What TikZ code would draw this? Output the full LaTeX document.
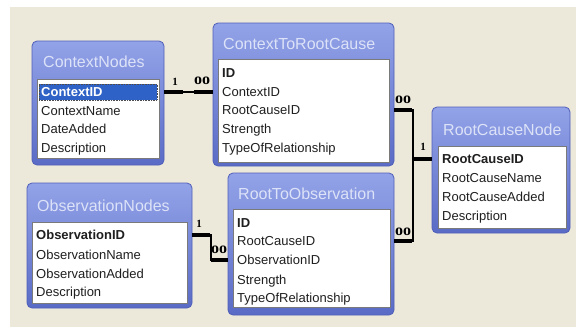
\documentclass[tikz,border=0pt]{standalone}
\usepackage{fontspec}
\setmainfont{Liberation Sans}
\newfontfamily\relfont{Liberation Serif}
\usetikzlibrary{calc}

\definecolor{deskbg}{HTML}{ECE8DA}
\definecolor{barTop}{HTML}{93A3E8}
\definecolor{barBot}{HTML}{5A6BC6}
\definecolor{boxEdge}{HTML}{4F5FB8}
\definecolor{titleInk}{HTML}{DCE2F7}
\definecolor{paneEdge}{HTML}{7A7A7A}
\definecolor{selBlue}{HTML}{2F62C6}

\tikzset{
  tableframe/.style={draw=boxEdge, line width=0.8pt, rounded corners=5pt,
    top color=barTop, bottom color=barBot, inner sep=0pt},
  listpane/.style={draw=paneEdge, line width=0.9pt, fill=white, inner sep=0pt},
  tabletitle/.style={anchor=west, inner sep=0pt, text=titleInk,
    font=\fontsize{16}{18}\selectfont, text height=11.5pt, text depth=0pt},
  field/.style={anchor=west, inner sep=0pt, text=black!88,
    font=\fontsize{13}{15}\selectfont, text height=9.3pt, text depth=0pt},
  keyfield/.style={field, font=\fontsize{13}{15}\selectfont\bfseries},
  selrow/.style={fill=selBlue, draw=black!70, densely dotted, line width=0.6pt, inner sep=0pt},
  relthin/.style={draw=black, line width=1.1pt},
  relthick/.style={draw=black, line width=3.2pt},
  onelabel/.style={inner sep=0pt, font=\relfont\bfseries\fontsize{11}{11}\selectfont},
  manylabel/.style={inner sep=0pt, font=\relfont\bfseries\fontsize{16}{16}\selectfont}
}

\begin{document}
\begin{tikzpicture}[x=1pt, y=-1pt]
  % canvas
  \useasboundingbox (0,0) rectangle (576,327);
  \fill[white] (0,0) rectangle (576,327);
  \fill[deskbg] (10,7) rectangle (576,327);

  % ---- ContextNodes ----
  \node[tableframe, minimum width=132pt, minimum height=124pt] (ctx) at (98,103) {};
  \node[tabletitle] (ctx-t) at (43,62) {ContextNodes};
  \node[listpane, minimum width=122pt, minimum height=79pt] (ctx-p) at (98,118.5) {};
  \node[selrow, minimum width=118pt, minimum height=16pt] (ctx-sel) at (98,92) {};
  \node[keyfield, text=white] (ctx-1) at (41,92) {ContextID};
  \node[field] (ctx-2) at (41,111) {ContextName};
  \node[field] (ctx-3) at (41,129) {DateAdded};
  \node[field] (ctx-4) at (41,148) {Description};

  % ---- ContextToRootCause ----
  \node[tableframe, minimum width=181pt, minimum height=143pt] (c2r) at (303.5,94.5) {};
  \node[tabletitle] (c2r-t) at (223,44) {ContextToRootCause};
  \node[listpane, minimum width=171pt, minimum height=103pt] (c2r-p) at (303.5,110.5) {};
  \node[keyfield] (c2r-1) at (222,73) {ID};
  \node[field] (c2r-2) at (222,92) {ContextID};
  \node[field] (c2r-3) at (222,110) {RootCauseID};
  \node[field] (c2r-4) at (222,129) {Strength};
  \node[field] (c2r-5) at (222,148) {TypeOfRelationship};

  % ---- RootCauseNode ----
  \node[tableframe, minimum width=138pt, minimum height=126pt] (rcn) at (501,170) {};
  \node[tabletitle] (rcn-t) at (443,130) {RootCauseNode};
  \node[listpane, minimum width=128pt, minimum height=82pt] (rcn-p) at (502,187) {};
  \node[keyfield] (rcn-1) at (442,159) {RootCauseID};
  \node[field] (rcn-2) at (442,178) {RootCauseName};
  \node[field] (rcn-3) at (442,197) {RootCauseAdded};
  \node[field] (rcn-4) at (442,216) {Description};

  % ---- ObservationNodes ----
  \node[tableframe, minimum width=165pt, minimum height=125pt] (obs) at (109.5,245.5) {};
  \node[tabletitle] (obs-t) at (37,206) {ObservationNodes};
  \node[listpane, minimum width=155pt, minimum height=81pt] (obs-p) at (109.5,262.5) {};
  \node[keyfield] (obs-1) at (36,235) {ObservationID};
  \node[field] (obs-2) at (36,255) {ObservationName};
  \node[field] (obs-3) at (36,274) {ObservationAdded};
  \node[field] (obs-4) at (36,292) {Description};

  % ---- RootToObservation ----
  \node[tableframe, minimum width=166pt, minimum height=142pt] (r2o) at (311,244) {};
  \node[tabletitle] (r2o-t) at (238,194) {RootToObservation};
  \node[listpane, minimum width=157pt, minimum height=98pt] (r2o-p) at (311.5,258) {};
  \node[keyfield] (r2o-1) at (237,223) {ID};
  \node[field] (r2o-2) at (237,241) {RootCauseID};
  \node[field] (r2o-3) at (237,260) {ObservationID};
  \node[field] (r2o-4) at (237,280) {Strength};
  \node[field] (r2o-5) at (237,298) {TypeOfRelationship};

  % ---- relationships ----
  % ContextNodes 1 -- many ContextToRootCause
  \draw[relthin] (ctx.east |- ctx-1) -- (c2r.west |- ctx-1);
  \draw[relthick] (ctx.east |- ctx-1) -- ++(19,0);
  \draw[relthick] (c2r.west |- ctx-1) -- ++(-19,0);
  \node[onelabel] (rel1-one) at (175,82) {1};
  \node[manylabel] (rel1-many) at (202,81) {oo};

  % ContextToRootCause / RootToObservation many -- 1 RootCauseNode
  \coordinate (rc-join) at (413,159);
  \draw[relthin] (c2r.east |- c2r-3) -| (rc-join) |- (r2o.east |- r2o-2);
  \draw[relthin] (rc-join) -- (rcn.west |- rcn-1);
  \draw[relthick] (c2r.east |- c2r-3) -- ++(18,0);
  \draw[relthick] (r2o.east |- r2o-2) -- ++(18,0);
  \draw[relthick] (rcn.west |- rcn-1) -- ++(-18,0);
  \node[manylabel] (rel2-many) at (403,100) {oo};
  \node[manylabel] (rel3-many) at (403,232) {oo};
  \node[onelabel] (rel2-one) at (423,147) {1};

  % ObservationNodes 1 -- many RootToObservation
  \coordinate (obs-bend) at (211,247);
  \draw[relthin] (obs.east |- obs-1) -| (obs-bend) |- (r2o.west |- r2o-3);
  \draw[relthick] (obs.east |- obs-1) -- ++(18,0);
  \draw[relthick] (r2o.west |- r2o-3) -- ++(-17,0);
  \node[onelabel] (rel4-one) at (199,224) {1};
  \node[manylabel] (rel4-many) at (219,250) {oo};
\end{tikzpicture}
\end{document}
